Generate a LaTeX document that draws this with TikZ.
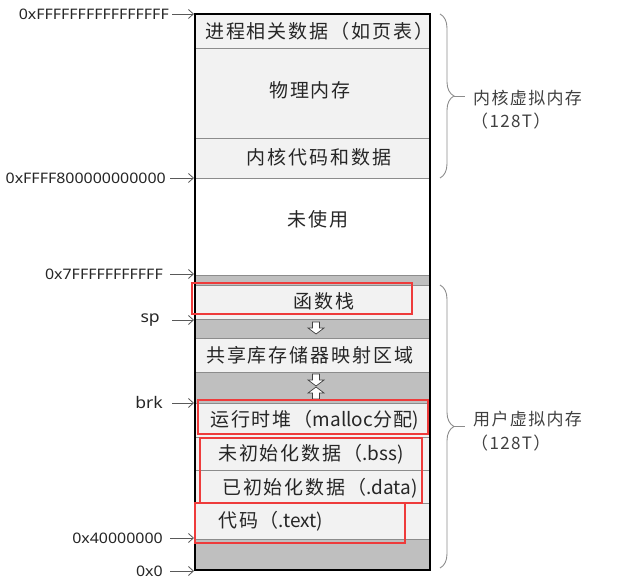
\documentclass[tikz,border=0pt]{standalone}
\usepackage{fontspec}
\setmainfont{Noto Sans CJK SC}
\newfontfamily\cellfont[LetterSpace=10]{Noto Sans CJK SC}
\newfontfamily\plainfont{Noto Sans CJK SC}
\newfontfamily\sidefont[LetterSpace=8]{Noto Sans CJK SC}
\newfontfamily\hexfont[FakeStretch=1.1]{Noto Sans}
\newcommand\lat[1]{{\plainfont #1}}
\usetikzlibrary{decorations.pathreplacing,arrows.meta}
\definecolor{lightrow}{HTML}{F2F2F2}
\definecolor{band}{HTML}{BFBFBF}
\definecolor{divider}{HTML}{8C8C8C}
\definecolor{hilite}{HTML}{EE3B3B}
\definecolor{txt}{HTML}{262626}
\definecolor{sidetxt}{HTML}{404040}
\definecolor{arrowgray}{HTML}{595959}
\begin{document}
\begin{tikzpicture}[x=1pt,y=-1pt,
  lightcell/.style={fill=lightrow,draw=divider,line width=0.8pt},
  whitecell/.style={fill=white,draw=divider,line width=0.8pt},
  bandcell/.style={fill=band,draw=divider,line width=0.8pt},
  celltext/.style={inner sep=0pt,text=txt,font=\cellfont\fontsize{19}{22}\selectfont},
  sidelabel/.style={inner sep=0pt,text=sidetxt,font=\sidefont\fontsize{17}{20}\selectfont,anchor=west},
  addr/.style={inner sep=0pt,text=txt,font=\hexfont\fontsize{14.5}{17}\selectfont,anchor=east},
  ptr/.style={draw=arrowgray,line width=0.8pt,-{Straight Barb[length=5pt,width=9pt]}},
  redbox/.style={draw=hilite,line width=2.4pt},
  bracestyle/.style={draw=divider,line width=0.9pt,decorate,decoration={brace,amplitude=14pt}},
  downblock/.pic={\draw[fill=white,draw=black!75,line width=0.7pt]
     (-3.5,-6) -- (3.5,-6) -- (3.5,0) -- (8,0) -- (0,6) -- (-8,0) -- (-3.5,0) -- cycle;},
  upblock/.pic={\draw[fill=white,draw=black!75,line width=0.7pt]
     (-3.5,6) -- (3.5,6) -- (3.5,0) -- (8,0) -- (0,-6) -- (-8,0) -- (-3.5,0) -- cycle;}
]
\useasboundingbox (0,0) rectangle (638,580);

% cells
\path[lightcell] (195,14) rectangle (430,48);
\path[lightcell] (195,48) rectangle (430,138);
\path[lightcell] (195,138) rectangle (430,178);
\path[whitecell] (195,178) rectangle (430,275);
\path[bandcell] (195,275) rectangle (430,285);
\path[lightcell] (195,285) rectangle (430,319);
\path[bandcell] (195,319) rectangle (430,338);
\path[lightcell] (195,338) rectangle (430,372);
\path[bandcell] (195,372) rectangle (430,403);
\path[lightcell] (195,403) rectangle (430,437);
\path[lightcell] (195,437) rectangle (430,470);
\path[lightcell] (195,470) rectangle (430,503);
\path[lightcell] (195,503) rectangle (430,539);
\path[bandcell] (195,539) rectangle (430,570);

% outer frame
\draw[black,line width=1.8pt] (195,14) rectangle (430,570);

% block arrows
\pic at (316,328) {downblock};
\pic at (316,380) {downblock};
\pic at (316,393) {upblock};

% cell texts
\node[celltext,anchor=west] (t1) at (205,31) {进程相关数据（如页表）};
\node[celltext] (t2) at (310,90) {物理内存};
\node[celltext] (t3) at (319,157) {内核代码和数据};
\node[celltext] (t4) at (318,219) {未使用};
\node[celltext] (t5) at (324,301) {函数栈};
\node[celltext,anchor=west] (t6) at (206,355) {共享库存储器映射区域};
\node[celltext,anchor=west] (t7) at (210,420) {运行时堆（\lat{malloc}分配\lat{)}};
\node[celltext,anchor=west] (t8) at (218,454) {未初始化数据（\lat{.bss)}};
\node[celltext,anchor=west] (t9) at (222,488) {已初始化数据（\lat{.data)}};
\node[celltext,anchor=west] (t10) at (218,521) {代码（\lat{.text)}};

% red highlight boxes
\node[redbox,inner sep=0pt,minimum width=220pt,minimum height=31pt] (r1) at (302,298.5) {};
\node[redbox,inner sep=0pt,minimum width=230pt,minimum height=34pt] (r2) at (313,417) {};
\node[redbox,inner sep=0pt,minimum width=222pt,minimum height=65pt] (r3) at (311,470.5) {};
\node[redbox,inner sep=0pt,minimum width=210pt,minimum height=40pt] (r4) at (300,523) {};

% address labels
\node[addr] (a1) at (169,14) {0xFFFFFFFFFFFFFFFF};
\node[addr] (a2) at (166,178) {0xFFFF800000000000};
\node[addr] (a3) at (163,274) {0x7FFFFFFFFFFF};
\node[addr,font=\hexfont\fontsize{16}{18}\selectfont] (a4) at (160,320) {sp};
\node[addr,font=\hexfont\fontsize{16}{18}\selectfont] (a5) at (163,403) {brk};
\node[addr] (a6) at (163,538) {0x40000000};
\node[addr] (a7) at (163,571) {0x0};

\coordinate (e1) at (194,14);
\coordinate (e2) at (194,178);
\coordinate (e3) at (194,274);
\coordinate (e4) at (194,320);
\coordinate (e5) at (194,403);
\coordinate (e6) at (194,538);
\coordinate (e7) at (194,571);

\draw[ptr,shorten <=3pt] (a1.east) -- (e1);
\draw[ptr,shorten <=4pt] (a2.east) -- (e2);
\draw[ptr,shorten <=7pt] (a3.east) -- (e3);
\draw[ptr,shorten <=12pt] (a4.east) -- (e4);
\draw[ptr,shorten <=9pt] (a5.east) -- (e5);
\draw[ptr,shorten <=7pt] (a6.east) -- (e6);
\draw[ptr,shorten <=7pt] (a7.east) -- (e7);

% braces
\coordinate (b1s) at (440,14);
\coordinate (b1e) at (440,178);
\coordinate (b2s) at (440,285);
\coordinate (b2e) at (440,568);
\draw[bracestyle] (b1s) -- (b1e);
\draw[bracestyle] (b2s) -- (b2e);
\coordinate (b1tip) at (454,96);
\coordinate (b2tip) at (454,426.5);
\coordinate (b1end) at (465,96);
\coordinate (b2end) at (465,426.5);
\draw[draw=divider,line width=0.9pt] (b1tip) -- (b1end);
\draw[draw=divider,line width=0.9pt] (b2tip) -- (b2end);

% side labels
\node[sidelabel] (k1) at (473,98) {内核虚拟内存};
\node[sidelabel] (k2) at (471,121) {（128T）};
\node[sidelabel] (k3) at (473,419) {用户虚拟内存};
\node[sidelabel] (k4) at (471,443) {（128T）};
\end{tikzpicture}
\end{document}
